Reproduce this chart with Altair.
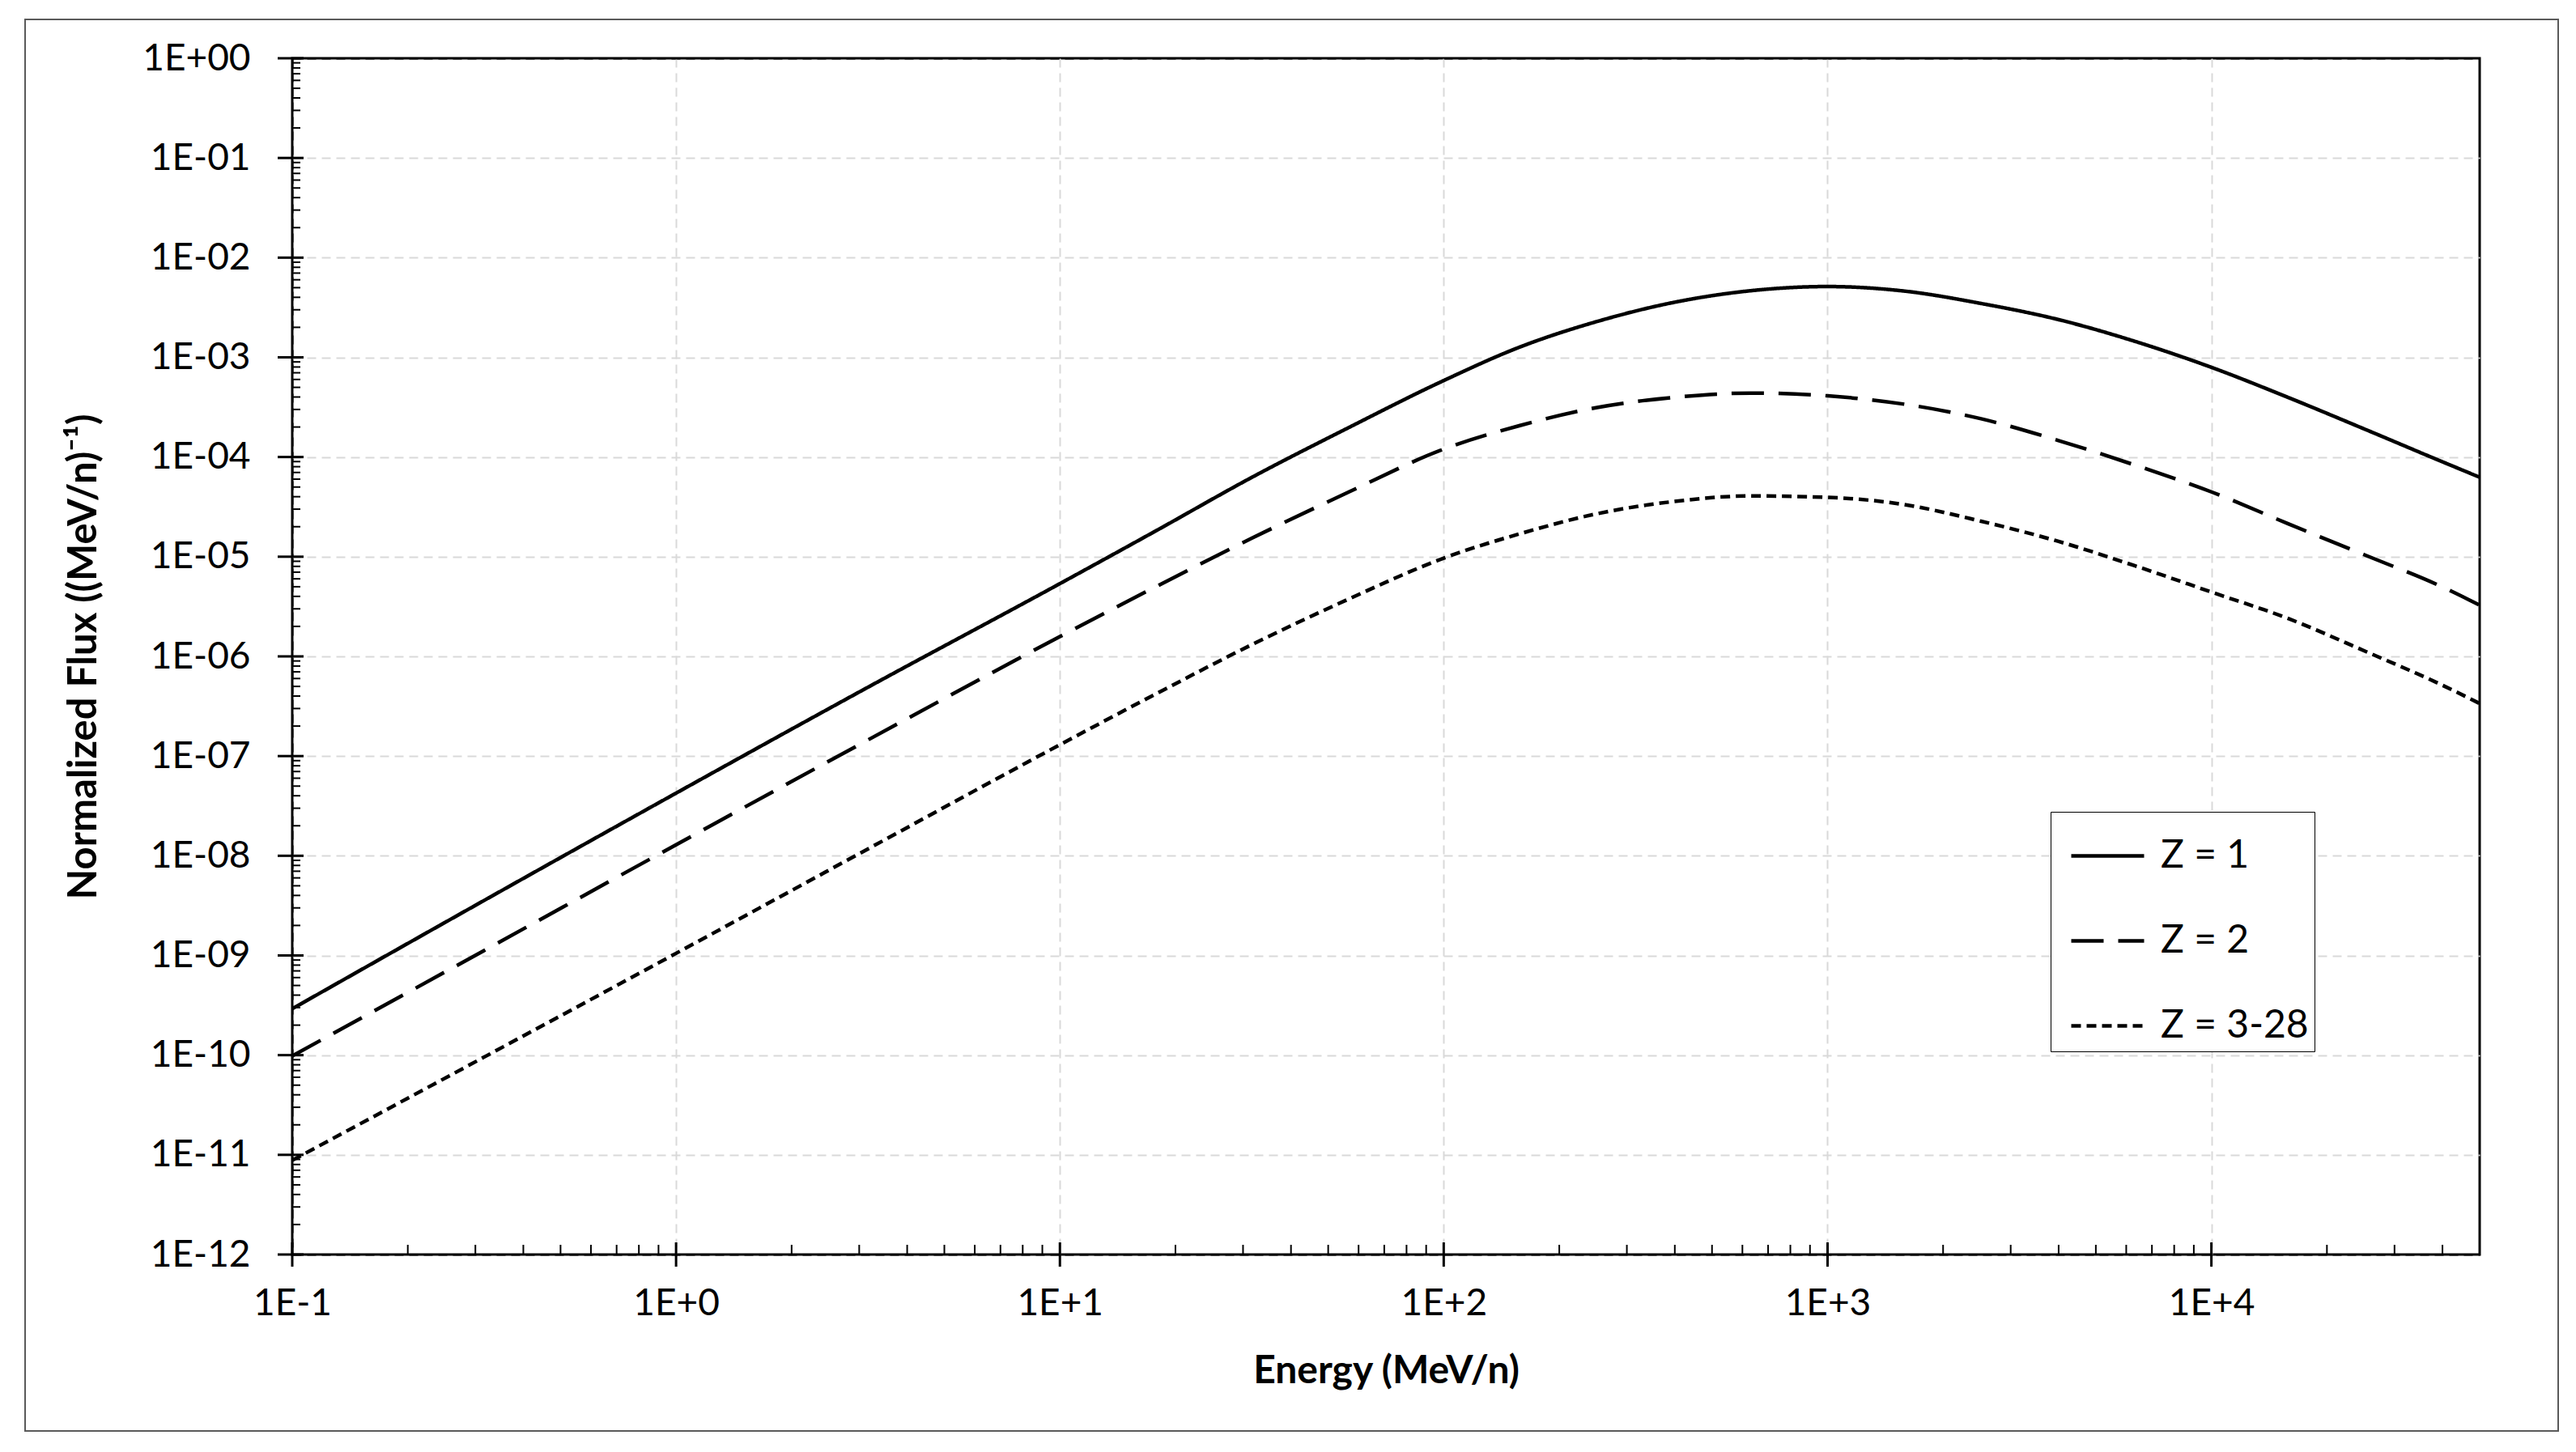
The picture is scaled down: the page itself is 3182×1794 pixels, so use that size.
import json
import altair as alt
import pandas as pd

# ---------------- data ----------------
energy = [0.1, 0.316, 1, 3.16, 10, 17.8, 31.6, 56.2, 100, 158, 251, 398, 631,
          1000, 1585, 2512, 3981, 6310, 10000, 15850, 25120, 39810, 50000]

flux_z1 = [2.92e-10, 3.56e-9, 4.25e-8, 4.90e-7, 5.37e-6, 1.82e-5, 6.24e-5, 1.95e-4,
           5.85e-4, 1.27e-3, 2.29e-3, 3.56e-3, 4.66e-3, 5.13e-3, 4.62e-3, 3.47e-3,
           2.40e-3, 1.45e-3, 7.94e-4, 3.96e-4, 1.90e-4, 9.02e-5, 6.27e-5]

flux_z2 = [9.82e-11, 1.12e-9, 1.29e-8, 1.45e-7, 1.58e-6, 5.01e-6, 1.53e-5, 4.40e-5,
           1.20e-4, 2.07e-4, 3.14e-4, 3.96e-4, 4.38e-4, 4.11e-4, 3.39e-4, 2.42e-4,
           1.47e-4, 8.32e-5, 4.47e-5, 2.14e-5, 1.04e-5, 5.01e-6, 3.27e-6]

flux_z3 = [8.81e-12, 9.55e-11, 1.05e-9, 1.17e-8, 1.30e-7, 4.21e-7, 1.31e-6, 3.72e-6,
           9.68e-6, 1.70e-5, 2.70e-5, 3.58e-5, 4.07e-5, 3.94e-5, 3.33e-5, 2.27e-5,
           1.43e-5, 8.13e-6, 4.42e-6, 2.40e-6, 1.13e-6, 5.18e-7, 3.37e-7]

series_names = ["Z = 1", "Z = 2", "Z = 3-28"]

x_tick_values = [0.1, 1, 10, 100, 1000, 10000]
x_tick_labels = ["1E-1", "1E+0", "1E+1", "1E+2", "1E+3", "1E+4"]

y_tick_values = [1e-12, 1e-11, 1e-10, 1e-9, 1e-8, 1e-7, 1e-6, 1e-5, 1e-4,
                 1e-3, 1e-2, 1e-1, 1.0]
y_tick_labels = ["1E-12", "1E-11", "1E-10", "1E-09", "1E-08", "1E-07", "1E-06",
                 "1E-05", "1E-04", "1E-03", "1E-02", "1E-01", "1E+00"]

minor_mult = [2, 3, 4, 5, 6, 7, 8, 9]
x_minor = [m * d for d in [0.1, 1, 10, 100, 1000, 10000] for m in minor_mult if m * d < 50000]
y_minor = [m * d for d in y_tick_values[:-1] for m in minor_mult]

# ---------------- layout ----------------
W, H = 2702, 1478
FONT = "Lato"
GRID = "#d9d9d9"

rows = []
for name, vals in zip(series_names, [flux_z1, flux_z2, flux_z3]):
    for e, f in zip(energy, vals):
        rows.append({"energy": e, "flux": f, "series": name})
df = pd.DataFrame(rows)

xscale = alt.Scale(type="log", domain=[0.1, 50000], nice=False)
yscale = alt.Scale(type="log", domain=[1e-12, 1], nice=False)

x_label_expr = f"{json.dumps(x_tick_labels)}[indexof({json.dumps(x_tick_values)}, datum.value)]"
y_label_expr = f"{json.dumps(y_tick_labels)}[indexof({json.dumps(y_tick_values)}, datum.value)]"

x_edge_test = f"datum.value == {x_tick_values[0]}"
y_edge_test = f"datum.value == {y_tick_values[0]} || datum.value == {y_tick_values[-1]}"

x_axis = alt.Axis(
    values=x_tick_values, labelExpr=x_label_expr, title="Energy (MeV/n)",
    ticks=False, domain=False, grid=True, gridDash=[11, 7],
    gridColor=alt.condition(x_edge_test, alt.value("black"), alt.value(GRID)),
    gridWidth=2, labelFont=FONT, labelFontSize=46, labelColor="black",
    labelPadding=38, labelFlush=False, labelOverlap=False,
    titleFont=FONT, titleFontSize=48, titleFontWeight="bold", titleColor="black",
    titleY=158, titleBaseline="alphabetic",
)
y_axis = alt.Axis(
    values=y_tick_values, labelExpr=y_label_expr,
    title="Normalized Flux ((MeV/n)⁻¹)",
    ticks=False, domain=False, grid=True, gridDash=[11, 7],
    gridColor=alt.condition(y_edge_test, alt.value("black"), alt.value(GRID)),
    gridWidth=2, labelFont=FONT, labelFontSize=46, labelColor="black",
    labelPadding=52, labelFlush=False, labelOverlap=False,
    titleFont=FONT, titleFontSize=49, titleFontWeight="bold", titleColor="black",
    titleX=-258, titleY=H / 2, titleAngle=270, titleAlign="center",
    titleBaseline="middle",
)

lines = alt.Chart(df).mark_line(color="black", strokeWidth=4.5, interpolate="monotone").encode(
    x=alt.X("energy:Q", scale=xscale, axis=x_axis),
    y=alt.Y("flux:Q", scale=yscale, axis=y_axis),
    strokeDash=alt.StrokeDash(
        "series:N",
        scale=alt.Scale(domain=series_names, range=[[1, 0], [40, 18], [12, 7]]),
        legend=alt.Legend(
            title=None, orient="none", legendX=2172, legendY=931,
            symbolType="stroke", symbolSize=8100, symbolStrokeWidth=4.5,
            symbolStrokeColor="black", labelFont=FONT, labelFontSize=48,
            labelColor="black", labelOffset=18, labelLimit=500, padding=7,
            symbolOffset=16, rowPadding=33, strokeColor="black",
            fillColor="white",
        ),
    ),
)

xmin_df = pd.DataFrame({"energy": x_minor})
xmaj_df = pd.DataFrame({"energy": x_tick_values})
ymin_df = pd.DataFrame({"flux": y_minor})
ymaj_df = pd.DataFrame({"flux": y_tick_values})

x_minor_ticks = alt.Chart(xmin_df).mark_rule(color="black", strokeWidth=2).encode(
    x=alt.X("energy:Q", scale=xscale, axis=x_axis), y=alt.value(H - 12), y2=alt.value(H))
x_major_ticks = alt.Chart(xmaj_df).mark_rule(color="black", strokeWidth=3).encode(
    x=alt.X("energy:Q", scale=xscale, axis=x_axis), y=alt.value(H - 15), y2=alt.value(H + 15))
y_minor_ticks = alt.Chart(ymin_df).mark_rule(color="black", strokeWidth=2).encode(
    y=alt.Y("flux:Q", scale=yscale, axis=y_axis), x=alt.value(0), x2=alt.value(10))
y_major_ticks = alt.Chart(ymaj_df).mark_rule(color="black", strokeWidth=3).encode(
    y=alt.Y("flux:Q", scale=yscale, axis=y_axis), x=alt.value(-18), x2=alt.value(14))

frame = alt.Chart(pd.DataFrame({"k": [0]})).mark_rect(
    filled=False, stroke="#5a5a5a", strokeWidth=2
).encode(x=alt.value(-330), x2=alt.value(2799), y=alt.value(-48), y2=alt.value(1696))

chart = alt.layer(frame, lines, x_minor_ticks, x_major_ticks, y_minor_ticks, y_major_ticks).properties(
    width=W, height=H,
    padding={"left": 22, "top": 15, "right": 5, "bottom": 5},
    background="white",
).configure_view(stroke="black", strokeWidth=3)

chart.save("out.html", embed_options={"renderer": "svg", "actions": False})
